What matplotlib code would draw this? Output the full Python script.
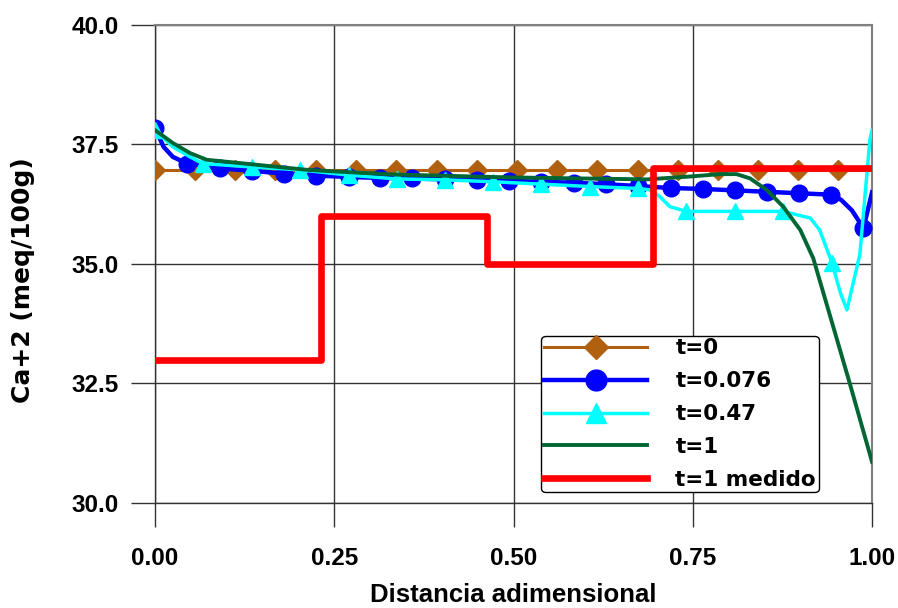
import matplotlib
matplotlib.use('Agg')
import matplotlib.pyplot as plt

plt.rcParams['font.family'] = ['Liberation Sans', 'DejaVu Sans']
plt.rcParams['font.weight'] = 'bold'

# t=0 (markers on all but the last point)
t0_x = [0.000, 0.056, 0.112, 0.168, 0.224, 0.280, 0.336, 0.393, 0.449, 0.505,
        0.561, 0.617, 0.673, 0.729, 0.785, 0.841, 0.897, 0.953, 1.000]
t0_y = [36.97, 36.97, 36.97, 36.97, 36.97, 36.97, 36.97, 36.97, 36.97, 36.97,
        36.97, 36.97, 36.97, 36.97, 36.97, 36.97, 36.97, 36.97, 36.97]

# t=0.076
t1_x = [0.000, 0.012, 0.025, 0.045, 0.090, 0.135, 0.180, 0.225, 0.270, 0.314,
        0.359, 0.404, 0.449, 0.494, 0.539, 0.584, 0.629, 0.674, 0.719, 0.764,
        0.809, 0.853, 0.898, 0.943, 0.957, 0.972, 0.988, 1.000]
t1_y = [37.84, 37.45, 37.24, 37.10, 37.00, 36.95, 36.89, 36.85, 36.82, 36.80,
        36.79, 36.77, 36.76, 36.74, 36.72, 36.70, 36.67, 36.63, 36.59, 36.57,
        36.54, 36.51, 36.48, 36.45, 36.34, 36.12, 35.75, 36.50]
t1_marks = [0, 3, 4, 5, 6, 7, 8, 9, 10, 11, 12, 13, 14, 15, 16, 17, 18, 19,
            20, 21, 22, 23, 26]

# t=0.47
t2_x = [0.000, 0.025, 0.049, 0.067, 0.135, 0.202, 0.270, 0.337, 0.404, 0.472,
        0.539, 0.607, 0.674, 0.690, 0.704, 0.718, 0.741, 0.809, 0.876, 0.914,
        0.927, 0.944, 0.956, 0.965, 0.983, 0.997, 1.000]
t2_y = [37.80, 37.45, 37.24, 37.10, 37.03, 36.97, 36.86, 36.78, 36.76, 36.72,
        36.67, 36.62, 36.58, 36.55, 36.41, 36.20, 36.10, 36.10, 36.10, 35.96,
        35.71, 35.03, 34.39, 34.04, 35.20, 37.60, 37.80]
t2_marks = [0, 3, 4, 5, 6, 7, 8, 9, 10, 11, 12, 16, 17, 18, 21]

# t=1
t3_x = [0.000, 0.025, 0.049, 0.072, 0.119, 0.165, 0.212, 0.258, 0.337, 0.500,
        0.686, 0.746, 0.788, 0.811, 0.830, 0.853, 0.876, 0.900, 0.918, 0.969,
        1.000]
t3_y = [37.80, 37.53, 37.32, 37.18, 37.11, 37.04, 36.97, 36.93, 36.87, 36.81,
        36.77, 36.83, 36.88, 36.88, 36.79, 36.55, 36.20, 35.71, 35.12, 32.50,
        30.86]

# t=1 medido (step)
med_x = [0.000, 0.2315, 0.463, 0.6945, 1.000]
med_y = [33.0, 36.0, 35.0, 37.0, 37.0]

fig = plt.figure(figsize=(8.98, 6.08), dpi=100)
ax = fig.add_axes([0.1726, 0.1727, 0.7985, 0.7862])

ax.plot(t0_x, t0_y, color='#B0600F', lw=2.2, marker='D', ms=10,
        markevery=list(range(18)), label='t=0', zorder=3)
ax.plot(t1_x, t1_y, color='#0000FF', lw=3.2, marker='o', ms=12,
        markevery=t1_marks, label='t=0.076', zorder=4)
ax.plot(t2_x, t2_y, color='#00FFFF', lw=2.5, marker='^', ms=11,
        markevery=t2_marks, label='t=0.47', zorder=5)
ax.plot(t3_x, t3_y, color='#006633', lw=2.8, label='t=1', zorder=6)
ax.step(med_x, med_y, where='post', color='#FF0000', lw=4.8,
        label='t=1 medido', zorder=7)

ax.set_xlim(0, 1)
ax.set_ylim(30, 40)
ax.set_xticks([0, 0.25, 0.5, 0.75, 1.0])
ax.set_xticklabels(['0.00', '0.25', '0.50', '0.75', '1.00'])
ax.set_yticks([30, 32.5, 35, 37.5, 40])
ax.set_yticklabels(['30.0', '32.5', '35.0', '37.5', '40.0'])
ax.tick_params(direction='out', length=17, width=1, color='#333333',
               labelsize=17.5)
ax.tick_params(axis='x', pad=15)
ax.tick_params(axis='y', pad=9)
ax.grid(True, color='#333333', lw=1)
ax.set_axisbelow(True)

for side in ['top', 'right']:
    ax.spines[side].set_color('#808080')
    ax.spines[side].set_linewidth(1.5)
for side in ['left', 'bottom']:
    ax.spines[side].set_color('#333333')
    ax.spines[side].set_linewidth(1)

ax.set_xlabel('Distancia adimensional', fontsize=18.5, fontweight='bold')
ax.xaxis.set_label_coords(0.5, -0.168)
ax.set_ylabel('Ca+2 (meq/100g)', fontsize=18, fontweight='bold',
              family='DejaVu Sans')
ax.yaxis.set_label_coords(-0.168, 0.467)

leg = ax.legend(loc='lower left', bbox_to_anchor=(0.539, 0.022),
                prop={'family': 'DejaVu Sans', 'weight': 'bold', 'size': 15.5},
                handlelength=4.8, labelspacing=0.6, handletextpad=1.3,
                borderpad=0.12, borderaxespad=0, markerscale=1.25,
                fancybox=True, framealpha=1, edgecolor='black')
leg.get_frame().set_linewidth(1)
leg.set_zorder(10)

fig.savefig('out.png', dpi=100)
plt.close(fig)
